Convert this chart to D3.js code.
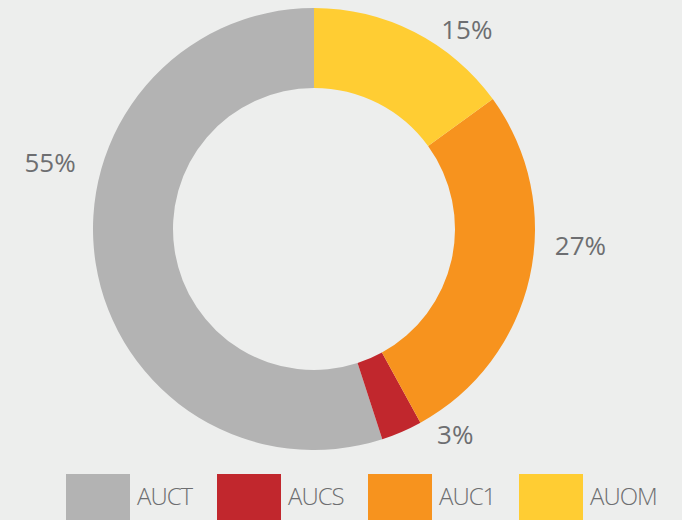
<!DOCTYPE html>
<html>
<head>
<meta charset="utf-8">
<script src="https://cdn.jsdelivr.net/npm/d3@7"></script>
<style>
  body { margin: 0; background: #edeeed; }
  svg { display: block; }
</style>
</head>
<body>
<div id="donut"></div>
<script>
const categories = ["AUCT", "AUCS", "AUC1", "AUOM"];
const shares = [55, 3, 27, 15];
const colors = ["#b3b3b3", "#c1272d", "#f7931e", "#ffcd33"];
// label placement tweaks (degrees off the slice middle, and distance from centre)
const labelNudge = [23, -11, -9, 10.5];
const labelRadius = [272, 250, 267, 251];

const W = 682, H = 520;
const cx = 314, cy = 229;
const outerR = 221, innerR = 141;

const svg = d3.select("#donut").append("svg")
    .attr("width", W)
    .attr("height", H);

svg.append("rect").attr("width", W).attr("height", H).attr("fill", "#edeeed");

const data = categories.map((c, i) => ({ name: c, value: shares[i], i: i }));

// counter-clockwise from 12 o'clock
const pie = d3.pie()
    .sort(null)
    .value(d => d.value)
    .startAngle(0)
    .endAngle(-2 * Math.PI);

const arc = d3.arc().innerRadius(innerR).outerRadius(outerR);

const g = svg.append("g").attr("transform", `translate(${cx},${cy})`);

const arcs = pie(data);

g.selectAll(".slice")
    .data(arcs)
    .enter().append("path")
    .attr("class", "slice")
    .attr("d", arc)
    .attr("fill", d => colors[d.data.i]);

// Percent labels
g.selectAll(".pct")
    .data(arcs)
    .enter().append("text")
    .attr("class", "pct")
    .attr("transform", d => {
        const a = (d.startAngle + d.endAngle) / 2 + labelNudge[d.data.i] * Math.PI / 180;
        const r = labelRadius[d.data.i];
        return `translate(${r * Math.sin(a)},${-r * Math.cos(a)})`;
    })
    .attr("text-anchor", "middle")
    .attr("dy", "0.35em")
    .attr("font-family", "Open Sans, sans-serif")
    .attr("font-size", 26)
    .attr("fill", "#6d6e71")
    .text(d => d.data.value + "%");

// Legend
const legendX = d3.scaleBand()
    .domain(categories)
    .range([66, 670])
    .paddingInner(0);

const legend = svg.selectAll(".legend")
    .data(data)
    .enter().append("g")
    .attr("class", "legend")
    .attr("transform", d => `translate(${legendX(d.name)},474)`);

legend.append("rect")
    .attr("width", 64)
    .attr("height", 50)
    .attr("fill", d => colors[d.i]);

legend.append("text")
    .attr("x", 71)
    .attr("y", 31)
    .attr("font-family", "Open Sans, sans-serif")
    .attr("font-weight", 300)
    .attr("font-size", 24)
    .attr("letter-spacing", -1)
    .attr("fill", "#6d6e71")
    .text(d => d.name);
</script>
</body>
</html>
